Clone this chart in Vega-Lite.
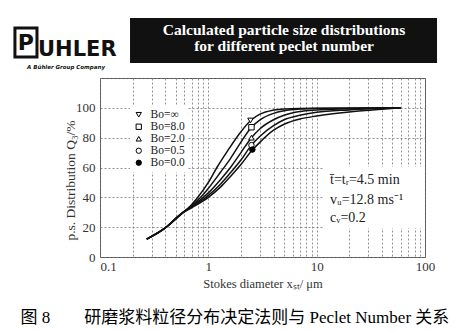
{
  "$schema": "https://vega.github.io/schema/vega-lite/v6.json",
  "autosize": {"type": "none"},
  "padding": {"left": 100, "top": 78, "right": 44, "bottom": 75},
  "width": 325,
  "height": 179,
  "background": "white",
  "config": {
    "view": {"stroke": "#555", "strokeWidth": 1},
    "axis": {
      "labelFont": "Liberation Serif", "labelFontSize": 13, "labelColor": "#333",
      "titleFont": "Liberation Serif", "titleFontWeight": "normal", "titleColor": "#333",
      "ticks": false, "domain": false, "grid": true, "labelOverlap": false,
      "gridColor": "#777", "gridDash": [2, 2], "gridWidth": 0.8
    },
    "axisX": {
      "tickCount": 10, "format": "~g", "labelFlush": false, "labelPadding": 3,
      "titleFontSize": 12.5, "titlePadding": 4,
      "labelAlign": {"condition": {"test": "datum.value == 0.1", "value": "left"}, "value": "center"},
      "labelExpr": "(datum.value == 0.1 || datum.value == 1 || datum.value == 10 || datum.value == 100) ? datum.label : ''"
    },
    "axisY": {
      "tickCount": 6, "labelPadding": 5,
      "titleFontSize": 13.5, "titleX": -30, "titleY": 102, "titleBaseline": "middle",
      "labelExpr": "datum.value > 100 ? '' : datum.label"
    }
  },
  "datasets": {
    "lines": [
      {"series": "Bo=∞", "x": 0.27, "q": 12}, {"series": "Bo=∞", "x": 0.4, "q": 19.5}, {"series": "Bo=∞", "x": 0.55, "q": 28}, {"series": "Bo=∞", "x": 0.7, "q": 35}, {"series": "Bo=∞", "x": 0.8, "q": 40}, {"series": "Bo=∞", "x": 1.0, "q": 50}, {"series": "Bo=∞", "x": 1.2, "q": 60}, {"series": "Bo=∞", "x": 1.5, "q": 71}, {"series": "Bo=∞", "x": 2.0, "q": 84}, {"series": "Bo=∞", "x": 2.5, "q": 92}, {"series": "Bo=∞", "x": 3.0, "q": 95.8}, {"series": "Bo=∞", "x": 4.0, "q": 98.5}, {"series": "Bo=∞", "x": 5, "q": 99.3}, {"series": "Bo=∞", "x": 10, "q": 99.8}, {"series": "Bo=∞", "x": 60, "q": 100},
      {"series": "Bo=8.0", "x": 0.27, "q": 12}, {"series": "Bo=8.0", "x": 0.4, "q": 19.5}, {"series": "Bo=8.0", "x": 0.55, "q": 28.5}, {"series": "Bo=8.0", "x": 0.7, "q": 34.5}, {"series": "Bo=8.0", "x": 0.85, "q": 40}, {"series": "Bo=8.0", "x": 1.0, "q": 46}, {"series": "Bo=8.0", "x": 1.3, "q": 57}, {"series": "Bo=8.0", "x": 1.6, "q": 66}, {"series": "Bo=8.0", "x": 2.0, "q": 77}, {"series": "Bo=8.0", "x": 2.5, "q": 87}, {"series": "Bo=8.0", "x": 3.0, "q": 92}, {"series": "Bo=8.0", "x": 4, "q": 96.3}, {"series": "Bo=8.0", "x": 5, "q": 98}, {"series": "Bo=8.0", "x": 7, "q": 99.2}, {"series": "Bo=8.0", "x": 10, "q": 99.6}, {"series": "Bo=8.0", "x": 60, "q": 100},
      {"series": "Bo=2.0", "x": 0.27, "q": 12}, {"series": "Bo=2.0", "x": 0.4, "q": 19.5}, {"series": "Bo=2.0", "x": 0.55, "q": 28.5}, {"series": "Bo=2.0", "x": 0.7, "q": 34}, {"series": "Bo=2.0", "x": 0.9, "q": 40}, {"series": "Bo=2.0", "x": 1.0, "q": 43}, {"series": "Bo=2.0", "x": 1.3, "q": 52}, {"series": "Bo=2.0", "x": 1.6, "q": 60}, {"series": "Bo=2.0", "x": 2.0, "q": 70}, {"series": "Bo=2.0", "x": 2.5, "q": 80}, {"series": "Bo=2.0", "x": 3.0, "q": 86}, {"series": "Bo=2.0", "x": 4, "q": 92}, {"series": "Bo=2.0", "x": 5, "q": 95}, {"series": "Bo=2.0", "x": 7, "q": 97.5}, {"series": "Bo=2.0", "x": 10, "q": 98.5}, {"series": "Bo=2.0", "x": 20, "q": 99.3}, {"series": "Bo=2.0", "x": 60, "q": 100},
      {"series": "Bo=0.5", "x": 0.27, "q": 12}, {"series": "Bo=0.5", "x": 0.4, "q": 19.5}, {"series": "Bo=0.5", "x": 0.55, "q": 28.5}, {"series": "Bo=0.5", "x": 0.7, "q": 33.5}, {"series": "Bo=0.5", "x": 0.95, "q": 40}, {"series": "Bo=0.5", "x": 1.3, "q": 49}, {"series": "Bo=0.5", "x": 1.6, "q": 56.5}, {"series": "Bo=0.5", "x": 2.0, "q": 65}, {"series": "Bo=0.5", "x": 2.5, "q": 75}, {"series": "Bo=0.5", "x": 3.0, "q": 81}, {"series": "Bo=0.5", "x": 4, "q": 88}, {"series": "Bo=0.5", "x": 5, "q": 92}, {"series": "Bo=0.5", "x": 7, "q": 95}, {"series": "Bo=0.5", "x": 10, "q": 97}, {"series": "Bo=0.5", "x": 20, "q": 98.6}, {"series": "Bo=0.5", "x": 60, "q": 100},
      {"series": "Bo=0.0", "x": 0.27, "q": 12}, {"series": "Bo=0.0", "x": 0.4, "q": 19.5}, {"series": "Bo=0.0", "x": 0.55, "q": 28.5}, {"series": "Bo=0.0", "x": 0.7, "q": 33}, {"series": "Bo=0.0", "x": 1.0, "q": 40}, {"series": "Bo=0.0", "x": 1.3, "q": 47}, {"series": "Bo=0.0", "x": 1.6, "q": 54}, {"series": "Bo=0.0", "x": 2.0, "q": 62}, {"series": "Bo=0.0", "x": 2.5, "q": 71}, {"series": "Bo=0.0", "x": 3.0, "q": 77}, {"series": "Bo=0.0", "x": 4, "q": 85}, {"series": "Bo=0.0", "x": 5, "q": 89}, {"series": "Bo=0.0", "x": 7, "q": 92.5}, {"series": "Bo=0.0", "x": 10, "q": 94.5}, {"series": "Bo=0.0", "x": 20, "q": 97.2}, {"series": "Bo=0.0", "x": 40, "q": 99}, {"series": "Bo=0.0", "x": 60, "q": 100}
    ],
    "markers": [
      {"series": "Bo=∞", "x": 2.45, "q": 91.5},
      {"series": "Bo=8.0", "x": 2.5, "q": 87},
      {"series": "Bo=2.0", "x": 2.5, "q": 80},
      {"series": "Bo=0.5", "x": 2.5, "q": 75},
      {"series": "Bo=0.0", "x": 2.55, "q": 72}
    ]
  },
  "layer": [
    {
      "data": {"name": "lines"},
      "mark": {"type": "line", "interpolate": "monotone", "color": "#111", "strokeWidth": 1.5},
      "encoding": {
        "x": {"field": "x", "type": "quantitative", "scale": {"type": "log", "domain": [0.1, 100]},
          "axis": {"title": "Stokes diameter xₛₜ/ μm"}},
        "y": {"field": "q", "type": "quantitative", "scale": {"domain": [0, 120]},
          "axis": {"title": "p.s. Distribution Q₃/%"}},
        "detail": {"field": "series"}
      }
    },
    {
      "data": {"values": [{}]},
      "mark": {"type": "rect", "fill": "white", "strokeWidth": 0},
      "encoding": {"x": {"datum": 11.4}, "x2": {"datum": 100}, "y": {"datum": 60.3}, "y2": {"datum": 19.4}}
    },
    {
      "data": {"name": "markers"},
      "mark": {"type": "point", "filled": true, "stroke": "black", "strokeWidth": 1, "size": 30, "opacity": 1},
      "encoding": {
        "x": {"field": "x", "type": "quantitative"},
        "y": {"field": "q", "type": "quantitative"},
        "shape": {"field": "series", "type": "nominal",
          "scale": {"domain": ["Bo=∞", "Bo=8.0", "Bo=2.0", "Bo=0.5", "Bo=0.0"], "range": ["triangle-down", "square", "triangle-up", "circle", "circle"]},
          "legend": {"orient": "none", "legendX": 30, "legendY": 28, "title": null, "labelFont": "Liberation Serif", "labelFontSize": 11.5, "labelColor": "#222",
            "symbolSize": 28, "symbolStrokeColor": "black", "symbolFillColor": "white", "symbolStrokeWidth": 1, "rowPadding": -3, "padding": 3, "fillColor": "white", "labelOffset": 6,
            "encode": {"symbols": {"update": {"fill": {"signal": "datum.value == 'Bo=0.0' ? 'black' : 'white'"}, "stroke": {"value": "black"}}}}}},
        "fill": {"field": "series", "type": "nominal",
          "scale": {"domain": ["Bo=∞", "Bo=8.0", "Bo=2.0", "Bo=0.5", "Bo=0.0"], "range": ["white", "white", "white", "white", "black"]},
          "legend": null}
      }
    },
    {
      "data": {"values": [{}]},
      "mark": {"type": "text", "text": "t̄=tᵣ=4.5 min", "font": "Liberation Serif", "fontSize": 14, "align": "left", "baseline": "middle", "color": "#222"},
      "encoding": {"x": {"datum": 13.3}, "y": {"datum": 51.6}}
    },
    {
      "data": {"values": [{}]},
      "mark": {"type": "text", "text": "vᵤ=12.8 ms⁻¹", "font": "Liberation Serif", "fontSize": 14, "align": "left", "baseline": "middle", "color": "#222"},
      "encoding": {"x": {"datum": 13.3}, "y": {"datum": 38.2}}
    },
    {
      "data": {"values": [{}]},
      "mark": {"type": "text", "text": "cᵥ=0.2", "font": "Liberation Serif", "fontSize": 14, "align": "left", "baseline": "middle", "color": "#222"},
      "encoding": {"x": {"datum": 13.3}, "y": {"datum": 26.1}}
    },
    {
      "data": {"values": [{}]},
      "mark": {"type": "rect", "fill": "#111", "strokeWidth": 0},
      "encoding": {"x": {"datum": 0.1893}, "x2": {"datum": 129.1}, "y": {"datum": 160.2}, "y2": {"datum": 130.1}}
    },
    {
      "data": {"values": [{}]},
      "mark": {"type": "text", "text": "Calculated particle size distributions", "font": "Liberation Serif", "fontWeight": "bold", "fontSize": 15.5, "align": "center", "baseline": "middle", "color": "white"},
      "encoding": {"x": {"datum": 5.0}, "y": {"datum": 152}}
    },
    {
      "data": {"values": [{}]},
      "mark": {"type": "text", "text": "for different peclet number", "font": "Liberation Serif", "fontWeight": "bold", "fontSize": 15.5, "align": "center", "baseline": "middle", "color": "white"},
      "encoding": {"x": {"datum": 5.0}, "y": {"datum": 141.3}}
    },
    {
      "data": {"values": [{}]},
      "mark": {"type": "rect", "fill": "white", "stroke": "#111", "strokeWidth": 3},
      "encoding": {"x": {"datum": 0.0164}, "x2": {"datum": 0.0262}, "y": {"datum": 153.5}, "y2": {"datum": 134.1}}
    },
    {
      "data": {"values": [{}]},
      "mark": {"type": "text", "text": "P", "font": "DejaVu Sans", "fontWeight": "bold", "fontSize": 22, "align": "center", "baseline": "middle", "color": "#111"},
      "encoding": {"x": {"datum": 0.0207}, "y": {"datum": 143.5}}
    },
    {
      "data": {"values": [{}]},
      "mark": {"type": "text", "text": "UHLER", "font": "DejaVu Sans", "fontWeight": "bold", "fontSize": 21, "align": "left", "baseline": "middle", "color": "#111"},
      "encoding": {"x": {"datum": 0.0268}, "y": {"datum": 138.8}}
    },
    {
      "data": {"values": [{}]},
      "mark": {"type": "text", "text": "A Bühler Group Company", "font": "DejaVu Sans", "fontWeight": "bold", "fontStyle": "italic", "fontSize": 5.5, "align": "center", "baseline": "middle", "color": "#111"},
      "encoding": {"x": {"datum": 0.0486}, "y": {"datum": 127.4}}
    },
    {
      "data": {"values": [{}]},
      "mark": {"type": "text", "text": "图 8\u3000\u3000研磨浆料粒径分布决定法则与 Peclet Number 关系", "font": "Liberation Serif, Noto Sans CJK SC", "fontSize": 17, "align": "center", "baseline": "middle", "color": "#000"},
      "encoding": {"x": {"datum": 1.76}, "y": {"datum": -40.9}}
    }
  ]
}
